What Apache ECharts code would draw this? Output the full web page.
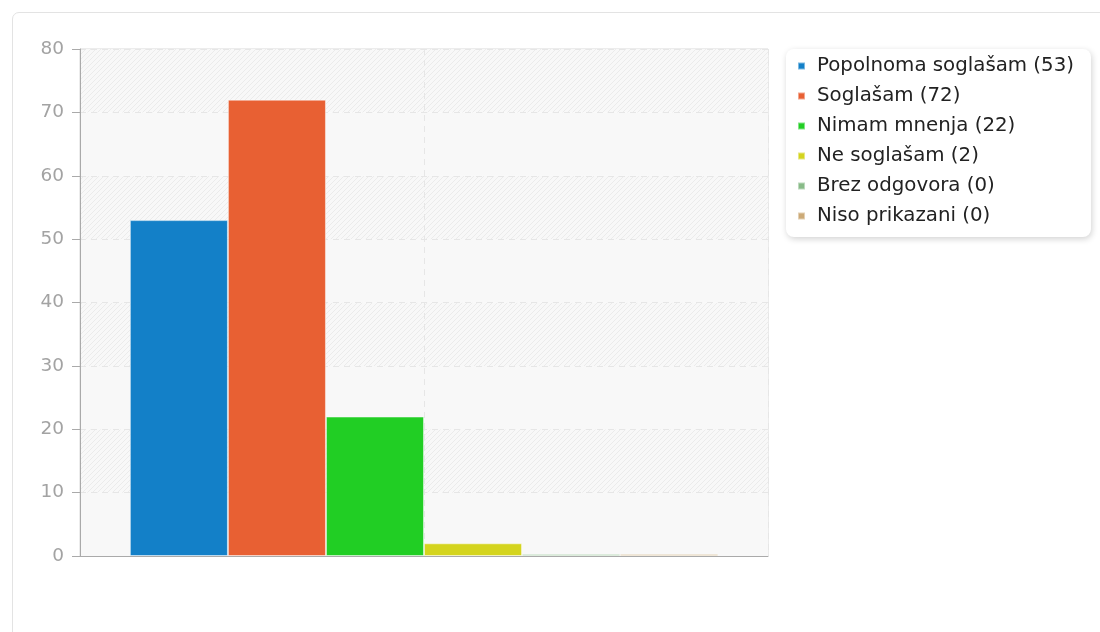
<!DOCTYPE html>
<html><head><meta charset="utf-8">
<script src="https://cdn.jsdelivr.net/npm/echarts@6/dist/echarts.min.js"></script>
<style>
html,body{margin:0;padding:0;background:#fff;width:1100px;height:632px;overflow:hidden;}
#card{position:absolute;left:12px;top:12px;width:1120px;height:660px;border:1px solid #e3e3e3;border-radius:7px;box-sizing:border-box;}
#chart{position:absolute;left:0;top:0;width:1100px;height:632px;}
</style></head>
<body>
<div id="card"></div>
<div id="chart"></div>
<script>
const seriesNames = ['Popolnoma soglašam (53)','Soglašam (72)','Nimam mnenja (22)','Ne soglašam (2)','Brez odgovora (0)','Niso prikazani (0)'];
const seriesValues = [53, 72, 22, 2, 0, 0];
const seriesColors = ['#1380c8','#e86033','#21ce24','#d4d41e','#88bb88','#ccaa77'];
const categories = [''];
const yTicks = {min: 0, max: 80, interval: 10};

function hatch(){
  const c = document.createElement('canvas');
  c.width = 5; c.height = 5;
  const g = c.getContext('2d');
  g.fillStyle = '#f8f8f8'; g.fillRect(0,0,5,5);
  g.strokeStyle = '#ebebeb'; g.lineWidth = 1;
  g.beginPath();
  g.moveTo(-1,6); g.lineTo(6,-1);
  g.moveTo(-4,4); g.lineTo(4,-4);
  g.moveTo(1,9); g.lineTo(9,1);
  g.stroke();
  return {image: c, repeat: 'repeat'};
}

const chart = echarts.init(document.getElementById('chart'));
chart.setOption({
  animation: false,
  textStyle: {fontFamily: 'DejaVu Sans'},
  grid: {left: 80, top: 49, right: 332, bottom: 76, show: true, borderColor: '#d8d8d8', borderWidth: 1, backgroundColor: 'transparent'},
  legend: {
    orient: 'vertical', left: 786, top: 49,
    data: seriesNames,
    icon: 'rect', itemWidth: 7, itemHeight: 7, itemGap: 10,
    padding: [7, 17, 11, 11],
    backgroundColor: '#fff', borderRadius: 8,
    shadowBlur: 6, shadowColor: 'rgba(0,0,0,0.18)', shadowOffsetX: 1, shadowOffsetY: 2,
    textStyle: {fontSize: 19.8, color: '#222', lineHeight: 20, padding: [0,0,0,7], fontFamily: 'DejaVu Sans'}
  },
  xAxis: [
    {type: 'category', data: categories, axisTick: {show: false}, axisLabel: {show: false},
     axisLine: {lineStyle: {color: '#aaa', width: 1}}, splitLine: {show: false}},
    {type: 'value', min: 0, max: 2, interval: 1, position: 'top', axisLine: {show: false}, axisTick: {show: false},
     axisLabel: {show: false}, splitLine: {show: true, lineStyle: {color: '#e6e6e6', type: [6, 5], width: 1}}}
  ],
  yAxis: {
    type: 'value', min: yTicks.min, max: yTicks.max, interval: yTicks.interval,
    axisLine: {show: true, lineStyle: {color: '#aaa', width: 1}},
    axisTick: {show: true, length: 8, lineStyle: {color: '#aaa'}},
    axisLabel: {color: '#a3a3a3', fontSize: 18.5, margin: 16, fontFamily: 'DejaVu Sans'},
    splitLine: {show: true, lineStyle: {color: '#e6e6e6', type: [6, 5], width: 1}},
    splitArea: {show: true, areaStyle: {color: ['#f8f8f8', hatch()]}}
  },
  series: seriesNames.map((n, i) => ({
    name: n, type: 'bar', xAxisIndex: 0,
    data: [seriesValues[i]],
    barGap: '0%', barCategoryGap: '14.5%', barMinHeight: 2,
    itemStyle: {color: seriesColors[i], borderColor: 'rgba(255,255,255,0.45)', borderWidth: 1},
    emphasis: {disabled: true}
  }))
});
</script>
</body></html>
